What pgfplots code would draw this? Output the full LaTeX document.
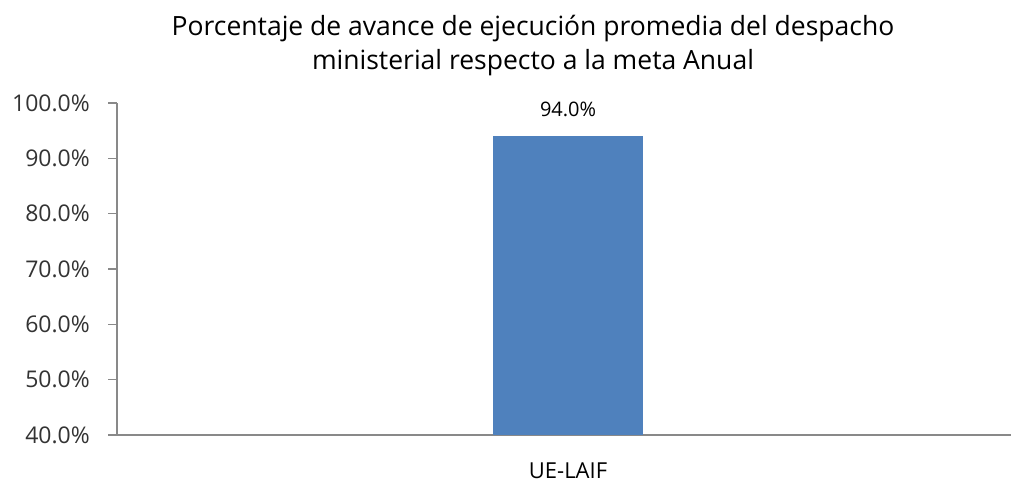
\documentclass[border=0pt]{standalone}
\usepackage{pgfplots}
\pgfplotsset{compat=1.18}
\usepackage{fontspec}
\setmainfont{Open Sans}
\definecolor{barblue}{HTML}{4F81BD}
\definecolor{axgray}{HTML}{898989}
\begin{document}
\begin{tikzpicture}[x=1pt,y=1pt]
\useasboundingbox (0,0) rectangle (1011,483);
\begin{axis}[
  at={(117pt,48pt)}, anchor=south west,
  scale only axis, width=894pt, height=332pt,
  xmin=-0.5, xmax=0.491, ymin=40, ymax=100,
  axis lines*=left,
  axis line style={axgray, line width=1.2pt},
  ytick={40,50,60,70,80,90,100},
  tick align=outside,
  major tick length=9pt,
  tick style={axgray, line width=1.2pt},
  xtick={0}, xticklabels={UE-LAIF},
  x tick style={draw=none},
  extra x ticks={-0.5}, extra x tick labels={},
  extra x tick style={tick style={axgray, line width=1.2pt}},
  /pgf/number format/assume math mode=true,
  yticklabel={\pgfmathprintnumber[fixed,fixed zerofill,precision=1]{\tick}\%},
  yticklabel style={font=\fontsize{23}{26}\selectfont, color=black!80, inner sep=0pt, xshift=-18pt},
  xticklabel style={font=\fontsize{22}{25}\selectfont, color=black, inner sep=0pt, yshift=-19pt},
  ybar, bar width=150pt,
  nodes near coords={94.0\%},
  nodes near coords style={font=\fontsize{20}{23}\selectfont, black, inner sep=0pt, yshift=19pt},
  clip=true,
]
\addplot[fill=barblue, draw=none, bar shift=0pt] coordinates {(0,94.0)};
\end{axis}
\node[align=center, font=\fontsize{26.5}{34}\selectfont, inner sep=0pt] at (533,437)
  {Porcentaje de avance de ejecución promedia del despacho\\ministerial respecto a la meta Anual};
\end{tikzpicture}
\end{document}
